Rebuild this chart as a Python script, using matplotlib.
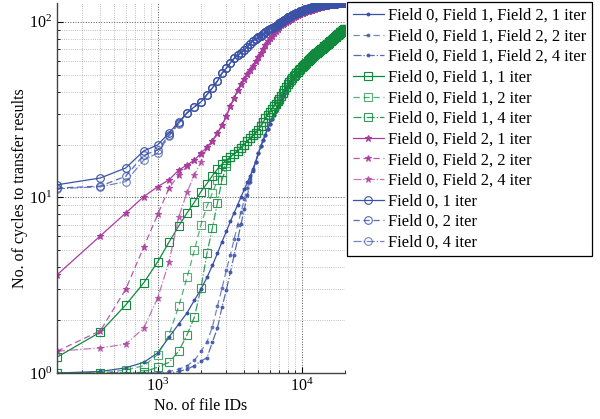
import matplotlib
matplotlib.use("Agg")
import matplotlib.pyplot as plt
import numpy as np
from matplotlib.ticker import LogLocator, NullFormatter, LogFormatterMathtext

plt.rcParams.update({
    "font.family": "serif",
    "font.serif": ["Liberation Serif", "DejaVu Serif"],
    "mathtext.fontset": "stix",
    "font.size": 11,
    "xtick.direction": "in",
    "ytick.direction": "in",
})

# file IDs sampled every 200 (200 ... 20000)
file_ids = np.arange(200, 20001, 200)

# ---- Field 0, Field 1, Field 2 (blue dots) ----
# heads: 200 .. 4600
f012_1_head = [1.0, 1.02, 1.07, 1.15, 1.3, 1.6, 1.9, 2.2, 2.6, 3.0,
               3.5, 4.1, 4.8, 5.6, 6.4, 7.3, 8.2, 9.1, 10.1, 11.1,
               12.2, 13.3, 14.6]
f012_2_head = [1.0, 1.0, 1.0, 1.0, 1.0, 1.02, 1.05, 1.1, 1.18, 1.33,
               1.5, 1.83, 2.4, 3.05, 3.86, 4.7, 5.8, 7.0, 8.3, 9.8,
               11.3, 12.8, 14.4]
f012_4_head = [1.0, 1.0, 1.0, 1.0, 1.0, 1.0, 1.02, 1.05, 1.1, 1.17,
               1.22, 1.5, 1.8, 2.38, 2.97, 3.76, 4.7, 5.8, 7.1, 8.6,
               10.3, 12.2, 14.2]
# shared tail: 4800 .. 20000
f012_tail = [16.0, 17.8, 19.5, 21.2, 22.8, 24.5, 26.2, 27.8, 29.4, 31.0,
             32.6, 34.2, 35.9, 37.6, 39.3, 41.0, 42.6, 44.0, 45.4, 46.7,
             48.0, 49.2, 50.3, 51.4, 52.4, 53.4, 54.4, 55.3, 56.2, 57.1,
             58.0, 58.9, 59.8, 60.7, 61.6, 62.4, 63.2, 64.0, 64.8, 65.5,
             66.2, 66.9, 67.6, 68.3, 69.0, 69.7, 70.4, 71.1, 71.8, 72.5,
             73.2, 73.9, 74.6, 75.3, 76.0, 76.7, 77.4, 78.1, 78.8, 79.5,
             80.2, 80.9, 81.6, 82.3, 83.0, 83.7, 84.4, 85.1, 85.8, 86.4,
             87.0, 87.6, 88.2, 88.8, 89.4, 90.0, 90.6]

# ---- Field 0, Field 1 (green squares) ----
# heads: 200 .. 3000
f01_1_head = [1.23, 1.71, 2.44, 3.26, 4.29, 5.57, 6.87, 8.15, 9.4, 10.8,
              12.0, 13.3, 14.5, 15.5, 16.3]
f01_2_head = [1.0, 1.0, 1.04, 1.1, 1.27, 1.65, 2.4, 3.5, 5.0, 7.0,
              8.9, 10.6, 12.5, 14.0, 15.8]
f01_4_head = [1.0, 1.0, 1.0, 1.01, 1.08, 1.15, 1.33, 1.65, 2.08, 3.05,
              4.8, 6.7, 9.3, 12.6, 15.0]
# shared tail: 3200 .. 20000
f01_tail = [17.0, 17.7, 18.4, 19.2, 20.0, 21.0, 21.8, 22.6, 23.4, 24.3,
            25.5, 26.8, 28.2, 29.6, 30.8, 31.9, 33.0, 34.0, 35.2, 36.5,
            38.0, 39.5, 41.0, 42.6, 44.2, 45.5, 46.7, 47.8, 48.9, 50.0,
            51.0, 52.0, 53.0, 54.0, 55.0, 55.9, 56.8, 57.7, 58.6, 59.5,
            60.4, 61.3, 62.2, 63.0, 63.8, 64.6, 65.4, 66.1, 66.8, 67.5,
            68.2, 68.9, 69.6, 70.3, 71.0, 71.7, 72.4, 73.1, 73.8, 74.5,
            75.2, 75.9, 76.6, 77.3, 78.0, 78.7, 79.4, 80.1, 80.8, 81.5,
            82.2, 82.9, 83.6, 84.3, 85.0, 85.7, 86.4, 87.0, 87.6, 88.2,
            88.8, 89.4, 90.0, 90.6, 91.2]

# ---- Field 0, Field 2 (magenta stars) ----
# heads: 200 .. 2000
f02_1_head = [3.62, 6.04, 8.15, 10.1, 11.5, 12.6, 14.3, 15.3, 16.3, 17.9]
f02_2_head = [1.33, 1.74, 3.0, 5.2, 8.0, 11.3, 13.4, 15.0, 16.3, 17.6]
f02_4_head = [1.33, 1.39, 1.46, 1.8, 2.67, 4.3, 7.7, 10.7, 13.5, 15.9]
# shared tail: 2200 .. 20000
f02_tail = [19.3, 21.0, 23.2, 25.8, 29.0, 33.2, 36.8, 41.0, 44.3, 47.5,
            50.3, 53.0, 56.0, 59.5, 63.0, 66.5, 70.0, 73.5, 77.5, 80.5,
            83.5, 86.5, 89.0, 91.5, 93.5, 95.3, 97.0, 98.6, 100.0, 101.5,
            103.0, 104.2, 105.3, 106.4, 107.5, 108.4, 109.3, 110.2, 111.0, 111.8,
            112.5, 113.2, 113.9, 114.5, 115.1, 115.7, 116.3, 116.9, 117.5, 118.0,
            118.5, 119.0, 119.5, 120.0, 120.4, 120.8, 121.2, 121.6, 122.0, 122.3,
            122.6, 122.9, 123.2, 123.5, 123.8, 124.1, 124.4, 124.6, 124.8, 125.0,
            125.3, 125.5, 125.7, 125.9, 126.1, 126.3, 126.5, 126.7, 126.8, 127.0,
            127.1, 127.2, 127.4, 127.5, 127.6, 127.7, 127.8, 127.9, 127.95, 128.0]

# ---- Field 0 only (blue circles) ----
# heads: 200 .. 1400
f0_1_head = [11.8, 12.9, 14.7, 18.4, 19.9, 23.3, 26.9]
f0_2_head = [11.3, 11.6, 13.2, 17.4, 18.6, 22.7, 26.5]
f0_4_head = [11.2, 11.5, 12.3, 16.3, 17.9, 22.3, 26.3]
# shared tail: 1600 .. 20000
f0_tail = [30.3, 32.8, 35.0, 38.5, 42.0, 46.0, 51.0, 54.5, 58.5, 62.0,
           64.5, 66.6, 69.0, 72.0, 75.0, 78.0, 80.0, 81.5, 82.5, 85.0,
           87.0, 89.5, 91.0, 92.5, 93.7, 95.0, 96.5, 98.0, 99.5, 101.0,
           102.6, 104.2, 106.0, 107.2, 108.3, 109.3, 110.2, 111.0, 112.0, 113.0,
           114.0, 115.0, 116.0, 116.6, 117.2, 117.8, 118.4, 119.0, 119.5, 120.0,
           120.5, 121.0, 121.5, 121.9, 122.3, 122.7, 123.0, 123.3, 123.6, 123.9,
           124.2, 124.5, 124.7, 124.9, 125.1, 125.3, 125.5, 125.7, 125.9, 126.1,
           126.3, 126.4, 126.5, 126.6, 126.7, 126.8, 126.9, 127.0, 127.1, 127.2,
           127.3, 127.4, 127.5, 127.6, 127.65, 127.7, 127.75, 127.8, 127.85, 127.9,
           127.93, 127.96, 128.0]

BLUE = "#3a52a6"
GREEN = "#128a3e"
MAGENTA = "#a93d9f"

series = [
    ("Field 0, Field 1, Field 2, 1 iter", f012_1_head + f012_tail, BLUE, "-", ".", 1.0),
    ("Field 0, Field 1, Field 2, 2 iter", f012_2_head + f012_tail, BLUE, "--", ".", 0.7),
    ("Field 0, Field 1, Field 2, 4 iter", f012_4_head + f012_tail, BLUE, "-.", ".", 0.85),
    ("Field 0, Field 1, 1 iter", f01_1_head + f01_tail, GREEN, "-", "s", 1.0),
    ("Field 0, Field 1, 2 iter", f01_2_head + f01_tail, GREEN, "--", "s", 0.7),
    ("Field 0, Field 1, 4 iter", f01_4_head + f01_tail, GREEN, "-.", "s", 0.85),
    ("Field 0, Field 2, 1 iter", f02_1_head + f02_tail, MAGENTA, "-", "*", 1.0),
    ("Field 0, Field 2, 2 iter", f02_2_head + f02_tail, MAGENTA, "--", "*", 0.85),
    ("Field 0, Field 2, 4 iter", f02_4_head + f02_tail, MAGENTA, "-.", "*", 0.7),
    ("Field 0, 1 iter", f0_1_head + f0_tail, BLUE, "-", "o", 1.0),
    ("Field 0, 2 iter", f0_2_head + f0_tail, BLUE, "--", "o", 0.85),
    ("Field 0, 4 iter", f0_4_head + f0_tail, BLUE, "-.", "o", 0.7),
]

fig = plt.figure(figsize=(6.0, 4.19), dpi=100)
ax = fig.add_axes([57 / 600, 46 / 419, 288 / 600, 370 / 419])

for label, vals, color, ls, marker, alpha in series:
    assert len(vals) == len(file_ids), label
    kw = dict(color=color, linestyle=ls, linewidth=0.9, marker=marker, alpha=alpha,
              label=label, markeredgewidth=0.8)
    if marker == ".":
        kw.update(markersize=4)
    elif marker == "*":
        kw.update(markersize=5)
    else:
        kw.update(markersize=5.5, markerfacecolor="none")
    if ls == "--":
        kw.update(dashes=(5, 3))
    ax.plot(file_ids, vals, **kw)

ax.set_xscale("log")
ax.set_yscale("log")
ax.set_xlim(200, 20000)
ax.set_ylim(1, 128)

ax.xaxis.set_major_locator(LogLocator(base=10))
ax.yaxis.set_major_locator(LogLocator(base=10))
ax.xaxis.set_major_formatter(LogFormatterMathtext())
ax.yaxis.set_major_formatter(LogFormatterMathtext())
ax.xaxis.set_minor_formatter(NullFormatter())
ax.yaxis.set_minor_formatter(NullFormatter())

ax.grid(True, which="major", linestyle=":", linewidth=0.7, color="#555555")
ax.grid(True, which="minor", linestyle=":", linewidth=0.6, color="#aaaaaa")
ax.set_axisbelow(True)

for side in ("top", "right"):
    ax.spines[side].set_visible(False)
for side in ("left", "bottom"):
    ax.spines[side].set_linewidth(1.0)
    ax.spines[side].set_color("#444444")
ax.tick_params(which="major", length=4, labelsize=11.5)
ax.tick_params(which="minor", length=2)

ax.set_xlabel("No. of file IDs", fontsize=11.5, labelpad=2)
ax.set_ylabel("No. of cycles to transfer results", fontsize=11.5, labelpad=1)

leg = ax.legend(loc="upper left", bbox_to_anchor=(347 / 600, 1 - 2 / 419),
                bbox_transform=fig.transFigure, borderaxespad=0, fancybox=False,
                edgecolor="black", framealpha=1, handlelength=1.9,
                handletextpad=0.25, labelspacing=0.28, borderpad=0.35, fontsize=11.9)
leg.get_frame().set_linewidth(0.9)

fig.savefig("out.png", dpi=100)
